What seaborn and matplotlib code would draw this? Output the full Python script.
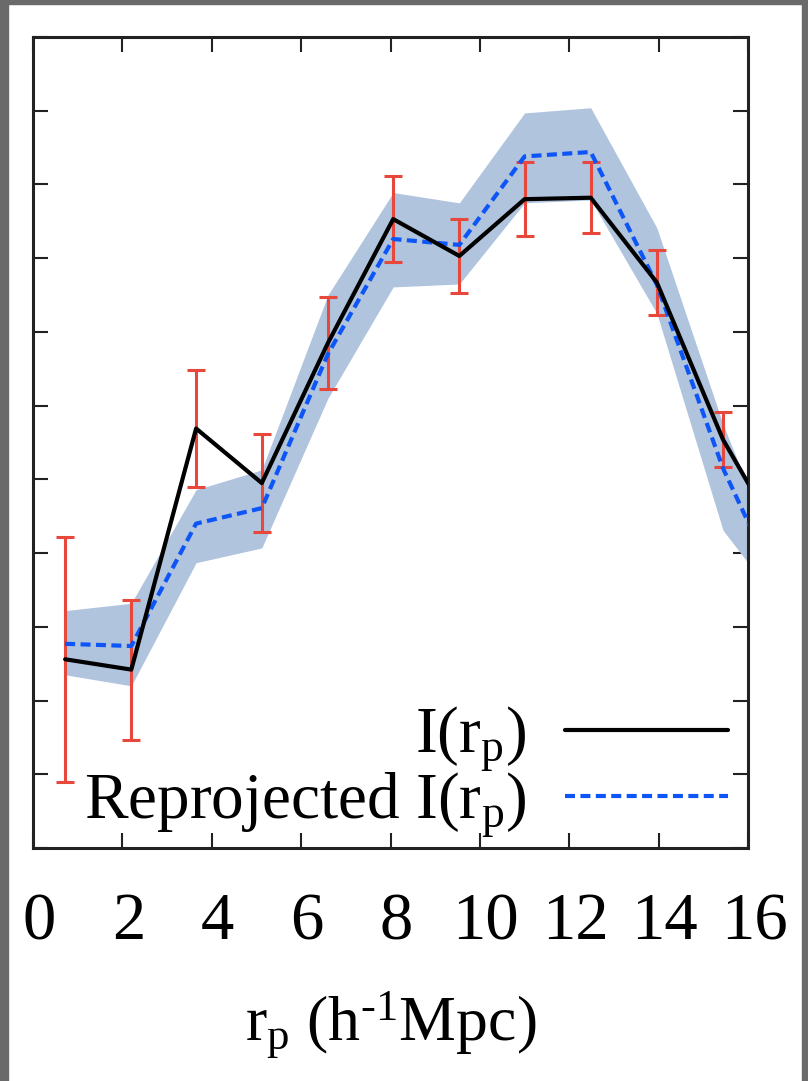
import numpy as np
import matplotlib
matplotlib.use("Agg")
import matplotlib.pyplot as plt
import matplotlib.transforms as mtransforms
import seaborn as sns
from matplotlib.patches import Rectangle

# -------- data --------
r_p = [0.72, 2.2, 3.65, 5.12, 6.6, 8.06, 9.54, 11.0, 12.48, 13.96, 15.44, 16.9]
i_rp = [2.56, 2.42, 5.69, 4.95, 6.85, 8.53, 8.03, 8.80, 8.82, 7.67, 5.54, 4.0]
i_err = [1.66, 0.95, 0.80, 0.66, 0.62, 0.58, 0.50, 0.50, 0.48, 0.44, 0.37, 0.0]
reproj = [2.77, 2.74, 4.40, 4.61, 6.70, 8.26, 8.18, 9.38, 9.44, 7.64, 5.15, 3.25]
band_hi = [3.22, 3.32, 4.86, 5.13, 7.50, 8.89, 8.75, 9.97, 10.04, 8.41, 5.75, 3.53]
band_lo = [2.35, 2.20, 3.87, 4.07, 6.10, 7.61, 7.65, 8.75, 8.79, 7.25, 4.31, 3.16]
x_ticks = [0, 2, 4, 6, 8, 10, 12, 14, 16]

sns.set_theme(style="ticks")
plt.rcParams["font.family"] = ["Liberation Serif", "DejaVu Serif"]
plt.rcParams["mathtext.fontset"] = "custom"
plt.rcParams["mathtext.rm"] = "Liberation Serif"
plt.rcParams["mathtext.it"] = "Liberation Serif:italic"
plt.rcParams["text.color"] = "black"
plt.rcParams["axes.labelcolor"] = "black"

fig = plt.figure(figsize=(8.08, 10.81), dpi=100)
ax = fig.add_axes([0.0408, 0.2155, 0.885, 0.7503])

# gray frame around the page
for rect in [(0, 0, 0.010, 1), (0, 0.996, 1, 0.004), (0.992, 0, 0.008, 1)]:
    fig.patches.append(Rectangle(rect[:2], rect[2], rect[3], transform=fig.transFigure,
                                 color="#6a6a6a", zorder=10))

ax.fill_between(r_p, band_lo, band_hi, color="#b0c4de", lw=0, zorder=1)
ax.errorbar(r_p[:-1], i_rp[:-1], yerr=i_err[:-1], fmt="none", ecolor="#e8483c",
            elinewidth=2.2, capsize=6.5, capthick=2.2, zorder=2)
sns.lineplot(x=r_p, y=reproj, ax=ax, color="#0d55f7", linewidth=3,
             linestyle=(0, (2.4, 1.3)), label=r"Reprojected I(r$_\mathrm{p}$)", zorder=3)
sns.lineplot(x=r_p, y=i_rp, ax=ax, color="black", linewidth=3,
             label=r"I(r$_\mathrm{p}$)", zorder=4)

ax.set_xlim(0, 16)
ax.set_ylim(0, 11)
ax.set_xticks(x_ticks)
ax.set_xticklabels([str(t) for t in x_ticks])
ax.set_yticks(range(0, 12))
ax.set_yticklabels([])
ax.tick_params(direction="in", length=11, width=1.5, top=True, right=True,
               labelsize=48, pad=32, colors="#222222", labelcolor="black")
shift = mtransforms.ScaledTranslation(6 / 100, 0, fig.dpi_scale_trans)
for lab in ax.get_xticklabels():
    lab.set_transform(lab.get_transform() + shift)
for s in ax.spines.values():
    s.set_linewidth(2.2)
    s.set_color("#222222")

ax.set_xlabel(r"r$_\mathrm{p}$ (h$^{\text{-}1}$Mpc)", fontsize=46, labelpad=26)
ax.set_ylabel("")

handles, labels = ax.get_legend_handles_labels()
ax.legend(handles[::-1], labels[::-1], loc="lower right", bbox_to_anchor=(1.0, -0.014),
          markerfirst=False, frameon=False, fontsize=47, handlelength=2.5,
          handletextpad=0.6, labelspacing=-0.05, borderaxespad=0.2, borderpad=0.1)

fig.savefig("out.png", dpi=100, facecolor="white")
